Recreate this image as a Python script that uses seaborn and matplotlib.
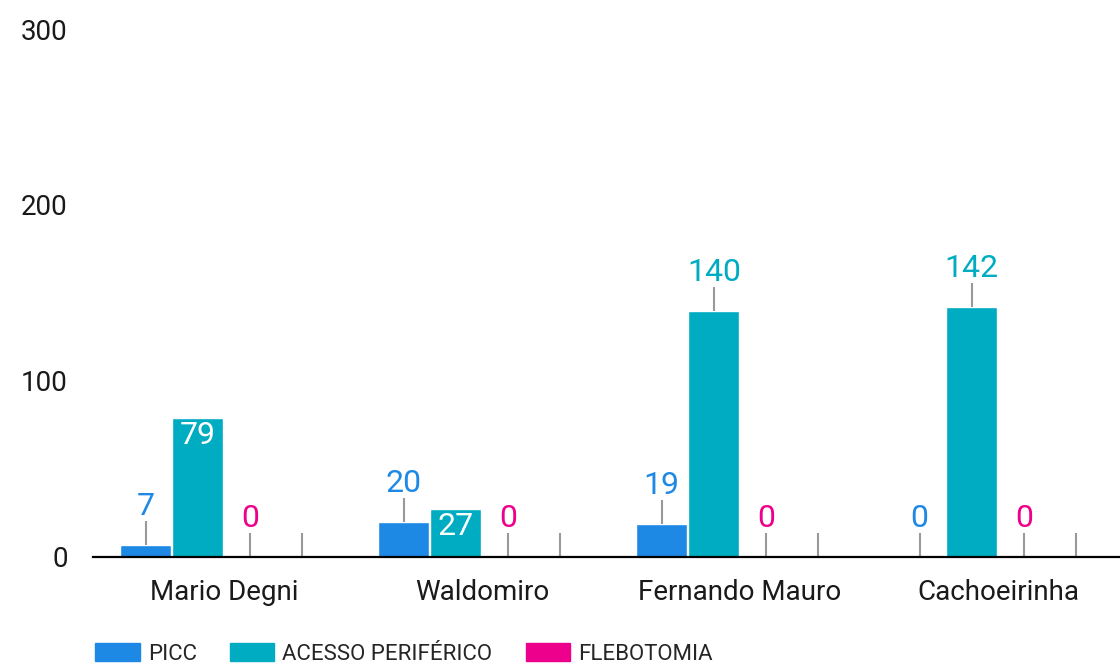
import pandas as pd
import seaborn as sns
import matplotlib.pyplot as plt
from matplotlib.patches import Patch

# dados
locais = ["Mario Degni", "Waldomiro", "Fernando Mauro", "Cachoeirinha"]
picc = [7, 20, 19, 0]
acesso = [79, 27, 140, 142]
flebotomia = [0, 0, 0, 0]
vazio = [0, 0, 0, 0]  # quarta coluna sem legenda
series = ["PICC", "ACESSO PERIFÉRICO", "FLEBOTOMIA", " "]
cores = ["#1E88E5", "#00ACC1", "#EC008C", "#FFFFFF"]
# rótulo dentro da barra?
dentro = [[False, False, False, False],
          [True, True, False, False],
          [False, False, False, False],
          [False, False, False, False]]

valores = [picc, acesso, flebotomia, vazio]
linhas = []
for s, vals in zip(series, valores):
    for l, v in zip(locais, vals):
        linhas.append({"local": l, "tipo": s, "valor": v})
df = pd.DataFrame(linhas)

sns.set_style("white")
plt.rcParams["font.family"] = ["Roboto", "DejaVu Sans"]

fig = plt.figure(figsize=(11.2, 6.67), dpi=100)
ax = fig.add_axes([0.083, 0.165, 0.917, 0.7915])

sns.barplot(data=df, x="local", y="valor", hue="tipo", palette=cores,
            width=0.81, gap=0.02, legend=False, ax=ax, saturation=1)

ax.set_ylim(0, 300)
ax.set_xlim(-0.508, 3.473)
ax.set_yticks([0, 100, 200, 300])
ax.set_xlabel("")
ax.set_ylabel("")
sns.despine(ax=ax, left=True)
ax.spines["bottom"].set_linewidth(1.6)
ax.spines["bottom"].set_color("black")
ax.tick_params(axis="y", length=0, pad=18, labelsize=20, labelcolor="#1a1a1a")
ax.tick_params(axis="x", length=0, pad=16, labelsize=20, labelcolor="#1a1a1a")

lider = 13.6
for i, cont in enumerate(ax.containers):
    for j, barra in enumerate(cont.patches):
        v = valores[i][j]
        xc = barra.get_x() + barra.get_width() / 2
        h = barra.get_height()
        if dentro[i][j]:
            ax.annotate(str(v), (xc, h), xytext=(0, -2), textcoords="offset points",
                        ha="center", va="top", color="white", fontsize=23)
            continue
        ax.plot([xc, xc], [h, h + lider], color="#999999", lw=1.5,
                solid_capstyle="butt", zorder=1)
        if i < 3:
            ax.annotate(str(v), (xc, h + lider), xytext=(0, 0), textcoords="offset points",
                        ha="center", va="bottom", color=cores[i], fontsize=23)

handles = [Patch(color=c, label=s) for c, s in zip(cores[:3], series[:3])]
fig.legend(handles=handles, loc="center left", bbox_to_anchor=(0.085, 0.0195),
           ncol=3, frameon=False, fontsize=16, handlelength=2.0, handleheight=0.9,
           handletextpad=0.36, columnspacing=1.5, borderpad=0, borderaxespad=0)

fig.savefig("out.png", dpi=100)
